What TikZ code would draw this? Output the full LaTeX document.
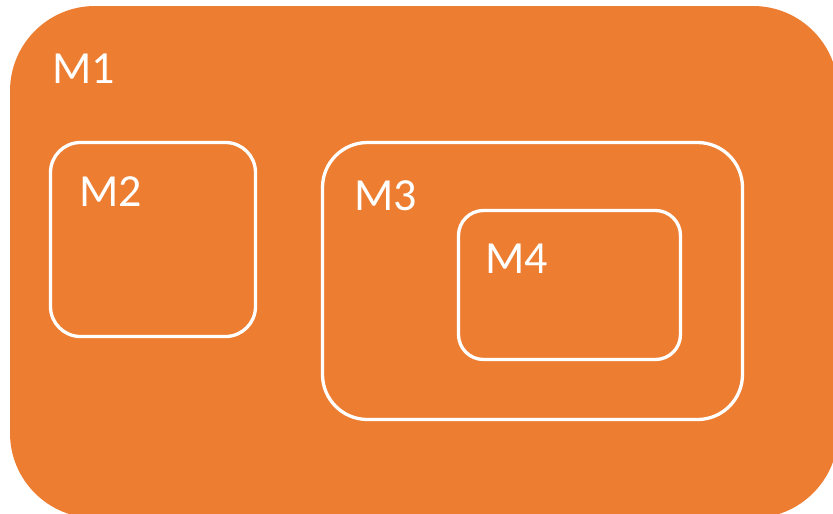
\documentclass[tikz,border=0pt]{standalone}
\usepackage{fontspec}
\setmainfont{Carlito}
\definecolor{boxorange}{HTML}{ED7D31}
\tikzset{
  outerbox/.style={rectangle, fill=boxorange, draw=none, rounded corners=85pt, inner sep=0pt},
  innerbox/.style={rectangle, draw=white, line width=3.3pt, rounded corners=#1, inner sep=0pt},
  lbl/.style={text=white, anchor=base west, inner sep=0pt, font=\fontsize{46}{50}\selectfont},
}
\begin{document}
\begin{tikzpicture}[x=1pt, y=-1pt]
  \useasboundingbox (0,0) rectangle (833,514);
  \clip (0,0) rectangle (833,514);
  \fill[white] (0,0) rectangle (833,514);
  % outer module
  \node[outerbox, minimum width=828pt, minimum height=512pt] (m1) at (424,262) {};
  \node[lbl] (m1l) at (52,83) {M1};
  % left inner module
  \node[innerbox=30pt, minimum width=205pt, minimum height=194pt] (m2) at (153,239.5) {};
  \node[lbl] (m2l) at (79,206) {M2};
  % right inner module with nested one
  \node[innerbox=45pt, minimum width=420pt, minimum height=277pt] (m3) at (532.5,281) {};
  \node[lbl] (m3l) at (354,210) {M3};
  \node[innerbox=25pt, minimum width=222pt, minimum height=149pt] (m4) at (569.5,285) {};
  \node[lbl] (m4l) at (485,273) {M4};
\end{tikzpicture}
\end{document}
